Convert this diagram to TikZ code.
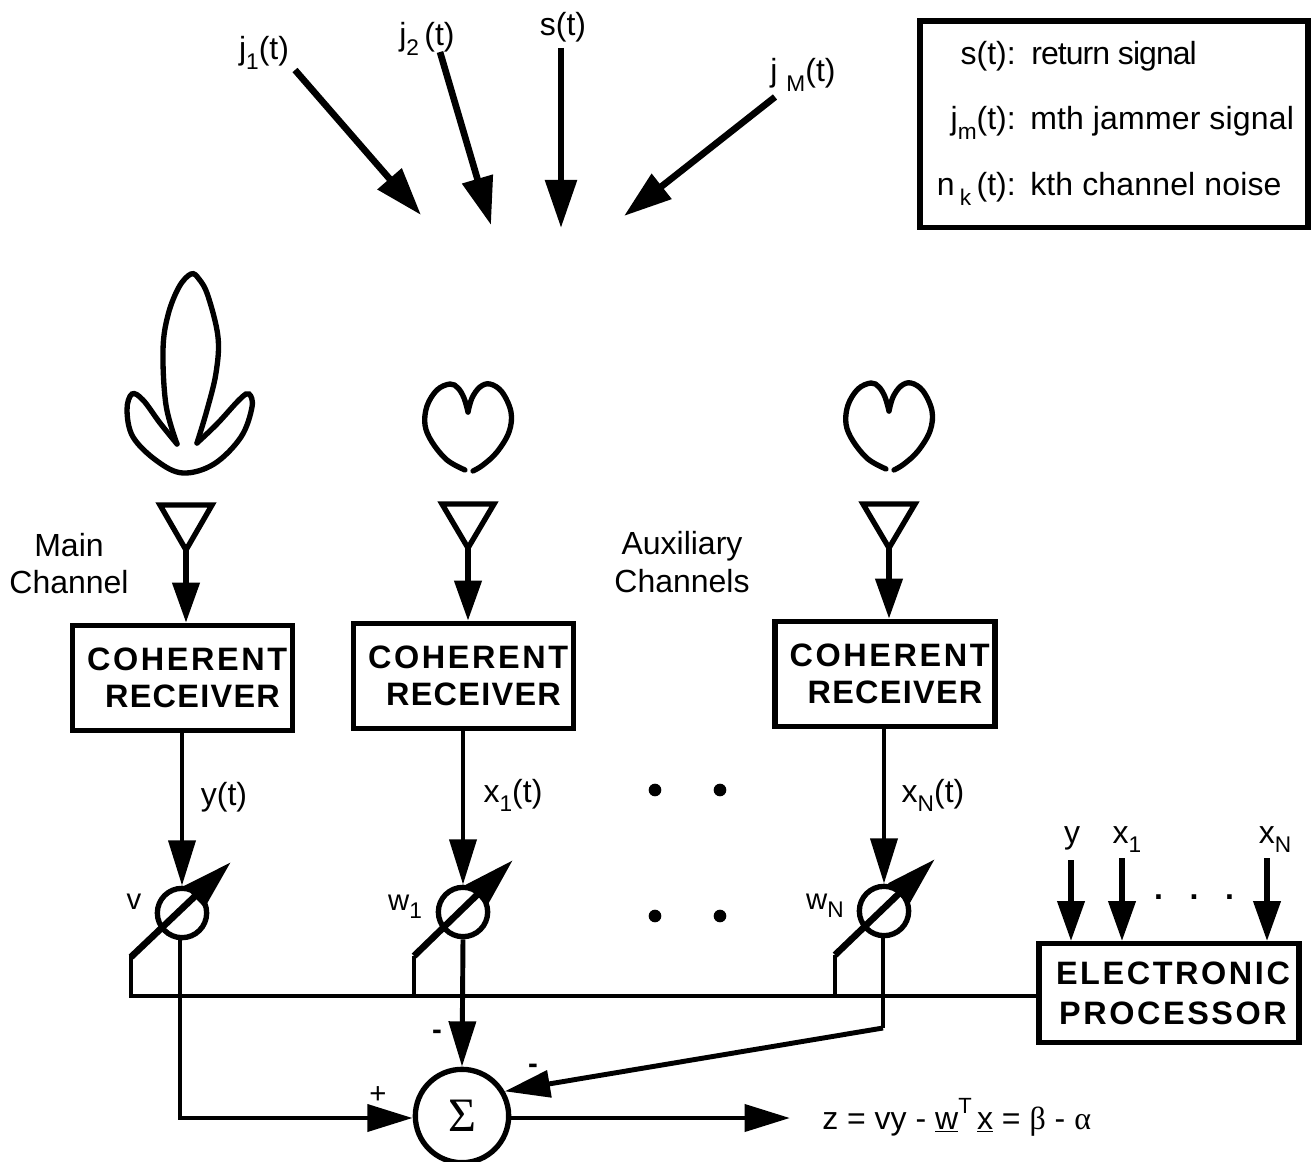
\documentclass[tikz,border=0pt]{standalone}
\usepackage{fontspec}
\setmainfont{Liberation Sans}
\newfontfamily\boxfont[LetterSpace=8]{Liberation Sans Bold}
\newfontfamily\rcvfont[LetterSpace=4]{Liberation Sans Bold}
\newfontfamily\grk{Liberation Serif}
\usetikzlibrary{arrows.meta,calc}
\newcommand{\lowtxt}[1]{\raisebox{-0.3em}{\fontsize{17}{18}\selectfont #1}}
\newcommand{\hightxt}[1]{\raisebox{0.5em}{\fontsize{16.5}{18}\selectfont #1}}
\newcommand{\rcvtext}{\hspace*{7pt}COHERENT\\\hspace*{15pt}{\rcvfont\fontsize{24.3}{28.2}\selectfont RECEIVER}}
\tikzset{
  lbl/.style={inner sep=0pt,font=\fontsize{24}{28}\selectfont,align=center},
  small/.style={inner sep=0pt,font=\fontsize{22}{25}\selectfont},
  blockbox/.style={draw,line width=4pt,fill=white,inner sep=0pt,align=center,
    font=\boxfont\fontsize{24.3}{28.2}\selectfont},
  wire/.style={line width=3.7pt},
  sig/.style={line width=3.7pt,-{Triangle[length=34pt,width=20pt]}},
  incoming/.style={line width=5pt,-{Triangle[length=36pt,width=23pt]}},
  inlet/.style={line width=4pt,-{Triangle[length=30pt,width=20pt]}},
  dial/.style={line width=5pt,-{Triangle[length=38pt,width=21pt]}},
  lobe/.style={line width=4pt,line cap=round},
  ant/.style={draw,line width=4pt,line join=miter},
  weight/.style={circle,draw,line width=4pt,minimum size=37pt,inner sep=0pt},
  dotmark/.style={circle,fill,minimum size=9.5pt,inner sep=0pt},
}
\begin{document}
\begin{tikzpicture}[x=0.75pt,y=-0.75pt]
\useasboundingbox (0,0) rectangle (1316,1162);

% legend
\node[draw,line width=4pt,minimum width=291pt,minimum height=155pt,inner sep=0pt] (legend) at (1114,124.5) {};
\node[lbl,anchor=base east] (l1a) at (1016,65) {s(t):};
\node[lbl,anchor=base west] (l1b) at (1031,65) {\addfontfeature{LetterSpace=-3}return signal};
\node[lbl,anchor=base east] (l2a) at (1016,130) {j\lowtxt{m}(t):};
\node[lbl,anchor=base west] (l2b) at (1030,130) {\addfontfeature{LetterSpace=0.5}mth jammer signal};
\node[lbl,anchor=base east] (l3a) at (1016,196) {n\,\lowtxt{k}\,(t):};
\node[lbl,anchor=base west] (l3b) at (1030,196) {\addfontfeature{LetterSpace=0.5}kth channel noise};

% incoming signals
\node[lbl,anchor=base] (j1) at (264,60) {j\lowtxt{1}(t)};
\node[lbl,anchor=base] (j2) at (427,46) {j\lowtxt{2}\,(t)};
\node[lbl,anchor=base] (st) at (563,36) {s(t)};
\node[lbl,anchor=base] (jM) at (803,82) {j \lowtxt{M}(t)};
\coordinate (j1s) at (295,70);   \coordinate (j1e) at (421,215);
\coordinate (j2s) at (440,52);   \coordinate (j2e) at (491,225);
\coordinate (ss)  at (561,48);   \coordinate (se)  at (561,228);
\coordinate (jMs) at (775,97);   \coordinate (jMe) at (624,216);
\draw[incoming] (j1s) -- (j1e);
\draw[incoming] (j2s) -- (j2e);
\draw[incoming] (ss) -- (se);
\draw[incoming] (jMs) -- (jMe);

% main beam pattern
\draw[lobe] plot[smooth,tension=0.6] coordinates {(177,444) (166,405) (163,350) (168,315) (179,287) (191,274) (199,279) (208,296) (218,337) (216,373) (207,410) (197,443)};
\draw[lobe] plot[smooth,tension=0.6] coordinates {(197,443) (217,424) (240,399) (249,394) (252,407) (241,437) (214,464) (183,473) (157,461) (133,437) (127,410) (132,394) (143,400) (160,423) (177,444)};
% auxiliary patterns
\foreach \dx/\dy in {0/0,421/-1}{
\begin{scope}[shift={(\dx,\dy)}]
\draw[lobe] plot[smooth,tension=0.6] coordinates {(468,412) (472,398) (480,387) (490,384) (502,392) (511,412) (509,432) (497,452) (483,465) (473,471)};
\draw[lobe] plot[smooth,tension=0.6] coordinates {(468,412) (464,398) (458,388) (450,384) (437,390) (427,406) (425,425) (432,442) (447,460) (465,470)};
\end{scope}}

% antennas
\coordinate (am) at (186,550);
\coordinate (a1) at (468,548);
\coordinate (aN) at (889,548);
\draw[ant] (160,505) -- (212,505) -- (am) -- cycle;
\draw[ant] (442,504) -- (494,504) -- (a1) -- cycle;
\draw[ant] (863,504) -- (915,504) -- (aN) -- cycle;

% labels
\node[lbl] (mainch) at (69,563.5) {Main\\[0pt]Channel};
\node[lbl] (auxch) at (682,562) {Auxiliary\\[0pt]Channels};

% receivers
\node[blockbox,minimum width=165pt,minimum height=79pt] (rm) at (182.5,678) {\rcvtext};
\node[blockbox,minimum width=165pt,minimum height=79pt] (r1) at (463.5,676) {\rcvtext};
\node[blockbox,minimum width=165pt,minimum height=79pt] (rN) at (885,674) {\rcvtext};
\draw[inlet] (am) -- (am |- rm.north);
\draw[inlet] (a1) -- (a1 |- r1.north);
\draw[inlet] (aN) -- (aN |- rN.north);

% weights
\node[weight] (wm) at (182,913) {};
\node[weight] (w1) at (463,912) {};
\node[weight] (wN) at (884,911) {};
\draw[sig] (rm.south -| wm) -- (wm.north);
\draw[sig] (r1.south -| w1) -- (w1.north);
\draw[sig] (rN.south -| wN) -- (wN.north);
\node[lbl,anchor=base] (yt) at (224,805) {y(t)};
\node[lbl,anchor=base] (x1t) at (513,802) {x\lowtxt{1}(t)};
\node[lbl,anchor=base] (xNt) at (933,802) {x\lowtxt{N}(t)};
\node[small,anchor=base] (vl) at (134,909) {v};
\node[small,anchor=base] (w1l) at (405,910) {w\lowtxt{1}};
\node[small,anchor=base] (wNl) at (825,909) {w\lowtxt{N}};

% dots
\node[dotmark] (d1) at (655,790) {};
\node[dotmark] (d2) at (720,790) {};
\node[dotmark] (d3) at (655,916) {};
\node[dotmark] (d4) at (720,916) {};

% processor
\node[blockbox,minimum width=195pt,minimum height=74pt] (proc) at (1169,993) {\hspace*{6pt}ELECTRONIC\\[2pt]\hspace*{6pt}PROCESSOR};
\coordinate (bl) at (131,996);
\coordinate (dm) at (131,957);
\coordinate (d1c) at (414,996);
\coordinate (d1s) at (414,956);
\coordinate (dNc) at (835,996);
\coordinate (dNs) at (835,955);
\draw[wire,line cap=rect] (proc.west |- bl) -- (bl) -- (dm);
\draw[wire] (d1c) -- (d1s);
\draw[wire] (dNc) -- (dNs);
\draw[dial] (dm) -- (231,862);
\draw[dial] (d1s) -- (513,860);
\draw[dial] (dNs) -- (935,859);

% processor inputs
\node[lbl,anchor=base] (iy) at (1072,843) {y};
\node[lbl,anchor=base] (ix1) at (1127,843) {x\lowtxt{1}};
\node[lbl,anchor=base] (ixN) at (1275,843) {x\lowtxt{N}};
\node[lbl,anchor=base,font=\bfseries\fontsize{24}{28}\selectfont] (idots) at (1194,899) {.\hspace{20pt}.\hspace{20pt}.};
\coordinate (iys) at (1071,860);
\coordinate (ix1s) at (1122,858);
\coordinate (ixNs) at (1267,858);
\draw[inlet] (iys) -- (iys |- proc.north);
\draw[inlet] (ix1s) -- (ix1s |- proc.north);
\draw[inlet] (ixNs) -- (ixNs |- proc.north);

% sum
\node[circle,draw,line width=4pt,minimum size=70pt,inner sep=0pt,font=\grk\fontsize{36}{38}\selectfont] (sum) at (462,1116) {Σ};
\coordinate (cm) at (180,1118);
\coordinate (cn) at (883,1028);
\draw[wire,line cap=rect] (wm.south -| cm) -- (cm);
\draw[sig] (cm) -- (sum.west |- cm);
\draw[sig] (w1.south) -- (sum.north);
\draw[wire] (wN.south -| cn) -- (cn);
\draw[sig] (cn) -- (sum.30);
\node[small,anchor=center] (pl) at (378,1095) {+};
\node[small,anchor=center,font=\bfseries\fontsize{22}{25}\selectfont] (m1) at (437,1035) {-};
\node[small,anchor=center,font=\bfseries\fontsize{22}{25}\selectfont] (m2) at (533,1069) {-};
\coordinate (zend) at (790,1118);
\draw[sig] (sum.east |- zend) -- (zend);
\node[lbl,anchor=base west] (zeq) at (822,1129) {z = vy - \underline{w}\hightxt{T}\,\underline{x} = {\grk β} - {\grk α}};
\end{tikzpicture}
\end{document}
